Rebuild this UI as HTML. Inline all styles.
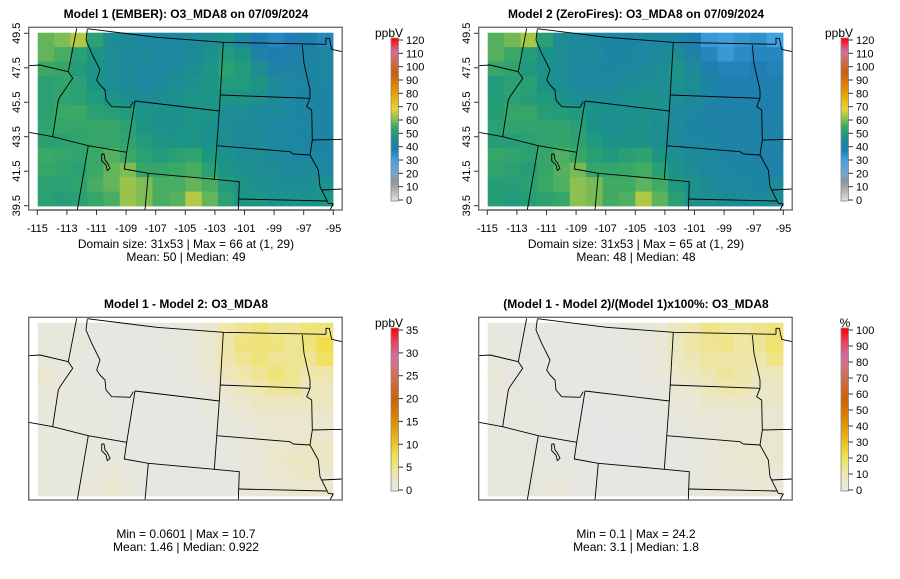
<!DOCTYPE html>
<html><head><meta charset="utf-8"><style>
body{margin:0;background:#fff;}
svg{display:block;font-family:"Liberation Sans",sans-serif;}
</style></head><body>
<svg id="chart" width="900" height="579" viewBox="0 0 900 579"></svg>
<script>
// ---- data (coarse 12 x 18 grid, rows north->south, cols west->east) ----
const lonTicks = [-115,-113,-111,-109,-107,-105,-103,-101,-99,-97,-95];
const latTicks = [39.5,41.5,43.5,45.5,47.5,49.5];
const concTicks = [0,10,20,30,40,50,60,70,80,90,100,110,120];
const diffTicks = [0,5,10,15,20,25,30,35];
const pctTicks = [0,10,20,30,40,50,60,70,80,90,100];
const model1 = [
[58,60,64,52,46,45,44,44,44,45,46,47,44,38,36,38,40,36],
[58,56,52,48,46,45,45,44,44,45,47,50,48,42,38,40,42,44],
[55,54,50,48,46,45,44,44,45,46,48,52,50,46,42,42,43,44],
[52,53,52,48,46,45,44,45,46,47,48,50,50,48,45,44,43,44],
[52,53,52,50,48,46,46,46,47,48,48,48,48,47,45,44,43,43],
[52,55,55,52,51,50,48,47,47,48,48,46,46,45,45,44,43,43],
[53,54,54,54,54,52,48,47,47,48,47,46,45,45,44,44,43,43],
[52,52,53,54,54,53,50,48,48,48,47,46,45,45,44,44,43,43],
[55,54,53,55,57,55,52,50,52,53,49,47,46,46,45,44,44,44],
[54,53,52,55,58,60,54,54,55,56,52,48,47,46,46,45,45,44],
[52,52,53,56,58,62,60,56,56,58,56,50,48,47,46,46,46,47],
[52,51,52,54,56,62,60,56,57,64,58,52,48,48,47,47,47,48]];
const diff = [
[1,1,1,0.5,0.3,0.3,0.3,0.5,1,1,2,4,5,6,5,5,6,6],
[1,1,1,0.5,0.3,0.3,0.3,0.5,0.8,1,2,4,6,6,6,5,6,8],
[1,1,0.5,0.3,0.3,0.3,0.3,0.5,0.5,1,2,4,5,6,5,5,5,7],
[2,1,0.5,0.3,0.3,0.3,0.3,0.5,0.5,1,2,3,4,5,6,5,4,4],
[1.5,1,1,0.5,0.3,0.3,0.3,0.3,0.5,0.5,1,2,3,4,5,5,3,3],
[1,1,1,1,0.5,0.3,0.3,0.3,0.3,0.5,1,1.5,2,3,3,3,3,3],
[1,1,1,1,1,0.5,0.3,0.3,0.3,0.3,1,1,1.5,2,2,2,2,2],
[1,1,1,1,0.5,0.5,0.3,0.3,0.3,0.3,0.5,1,1,1.5,2,2,2,2],
[1,1,1,1,0.5,0.5,0.3,0.3,0.3,0.3,0.5,0.5,1,1.5,2,2,2.5,2.5],
[1,1,1,1,1,0.5,0.3,0.3,0.3,0.3,0.5,0.5,1,1.5,2,2.5,2.5,2.5],
[1,1,1,1,1.5,1,0.5,0.5,0.5,0.5,0.5,0.5,1,1.5,2,2,2.5,2],
[1,1,1,1.5,2,1,0.5,0.5,0.5,0.5,0.5,0.5,1,1.5,1.5,2,2,2]];

const NS="http://www.w3.org/2000/svg";
const svg=document.getElementById('chart');
function el(tag,attrs,parent){const e=document.createElementNS(NS,tag);for(const k in attrs)e.setAttribute(k,attrs[k]);(parent||svg).appendChild(e);return e;}
function hex(c){return [parseInt(c.slice(1,3),16),parseInt(c.slice(3,5),16),parseInt(c.slice(5,7),16)];}
function interp(stops,f){f=Math.max(0,Math.min(1,f));for(let i=1;i<stops.length;i++){if(f<=stops[i][0]){const a=stops[i-1],b=stops[i];const t=(f-a[0])/(b[0]-a[0]||1);const ca=hex(a[1]),cb=hex(b[1]);return 'rgb('+ca.map((v,j)=>Math.round(v+(cb[j]-v)*t)).join(',')+')';}}return stops[stops.length-1][1];}
const concStops=[[0,'#e2e2e2'],[10/120,'#a8a8a8'],[15/120,'#909090'],[20/120,'#78a8cc'],[30/120,'#42a2e0'],[38/120,'#1f7db2'],[44/120,'#1d86a0'],[49/120,'#1c9880'],[55/120,'#3aa866'],[61/120,'#8cc050'],[68/120,'#e6d636'],[75/120,'#e8b40c'],[85/120,'#e08400'],[95/120,'#c85c14'],[102/120,'#d06a40'],[110/120,'#d072a0'],[1,'#ff0000']];
const diffStops=[[0,'#e6e6e6'],[0.05,'#e9e7d2'],[0.12,'#eee6a8'],[0.22,'#f0e050'],[0.32,'#eab818'],[0.42,'#e09000'],[0.57,'#d06000'],[0.72,'#d07060'],[0.82,'#d070a0'],[0.92,'#e84060'],[1,'#ff0000']];

const G={x0:37.7,x1:333,y0:32.7,y1:206,lonMin:-115.05,lonMax:-94.98,latMin:39.45,latMax:49.55};
const xLon=l=>37.3+(l+115)*14.8;
const yLat=l=>205.7-(l-39.5)*17.24;

const borders=[
[[262,86],[470,112],[670,127],[978,133]],[[978,133],[978,115],[988,115],[995,148],[1027,155]],
[[230,85],[205,215]],[[86,197],[120,195],[205,215],[218,235],[180,290],[175,300],[158,410]],
[[86,397],[158,410],[265,437],[380,457]],
[[262,88],[258,120],[275,160],[300,210],[290,240],[300,255],[315,270],[318,300],[335,320],[390,322],[400,305]],
[[405,303],[658,333],[643,538],[445,520],[373,507],[380,457],[405,303]],
[[670,127],[658,333]],[[660,285],[930,295]],
[[907,135],[912,190],[930,270],[930,295],[920,320],[935,330],[937,420],[930,465]],
[[650,437],[870,455],[880,462],[930,465],[955,510],[960,560],[985,610],[1000,612],[990,630]],
[[937,420],[1027,418]],[[965,570],[1027,567]],[[715,597],[980,603]],
[[643,538],[718,545],[715,630]],[[445,520],[435,630]],[[265,437],[232,630]],
[[305,462],[312,462],[315,480],[322,488],[330,505],[322,512],[318,495],[305,482],[305,462]]];

function panel(ox,oy,id,title,vals,cmin,cmax,stops,axes,cbTicks,cbLabel,sub1,sub2){
  const g=el('g',{transform:`translate(${ox},${oy})`,});
  const t=el('text',{x:186,y:18,'text-anchor':'middle','font-size':'12','font-weight':'bold',fill:'#000'},g);t.textContent=title;
  
  const hm=el('g',{},g);
  const nr=vals.length,nc=vals[0].length;
  const cw=(G.x1-G.x0)/nc,ch=(G.y1-G.y0)/nr;
  for(let r=0;r<nr;r++)for(let c=0;c<nc;c++){
    const lon=G.lonMin+(c+0.5)*(G.lonMax-G.lonMin)/nc, lat=G.latMax-(r+0.5)*(G.latMax-G.latMin)/nr;
    const cx=G.x0+(lon-G.lonMin)/(G.lonMax-G.lonMin)*(G.x1-G.x0), cy=G.y0+(G.latMax-lat)/(G.latMax-G.latMin)*(G.y1-G.y0);
    const rc=el('rect',{x:(cx-cw/2).toFixed(2),y:(cy-ch/2).toFixed(2),width:(cw+0.4).toFixed(2),height:(ch+0.4).toFixed(2),fill:interp(stops,(vals[r][c]-cmin)/(cmax-cmin))},hm);
    
    
  }
  const bg=el('g',{fill:'none',stroke:'#000','stroke-width':'0.9','stroke-linejoin':'round'},g);
  
  borders.forEach(b=>{el('polyline',{points:b.map(p=>(p[0]/3).toFixed(1)+','+(p[1]/3).toFixed(1)).join(' ')},bg);});
  const box=el('rect',{x:28.7,y:27.3,width:313.5,height:182.7,fill:'none',stroke:'#666','stroke-width':'1.3'},g);
  
  if(axes){
    const ax=el('g',{},g);
    lonTicks.forEach(l=>{const x=xLon(l);el('line',{x1:x,x2:x,y1:210,y2:215,stroke:'#333'},ax);
      const tx=el('text',{x:x,y:232,'text-anchor':'middle','font-size':'11',fill:'#000'},ax);tx.textContent=l;});
    el('line',{x1:xLon(-115),x2:xLon(-95),y1:210,y2:210,stroke:'#333'},ax);
    const ay=el('g',{},g);
    latTicks.forEach(l=>{const y=yLat(l);el('line',{x1:28.7,x2:24,y1:y,y2:y,stroke:'#333'},ay);
      const tx=el('text',{x:0,y:0,'text-anchor':'middle','font-size':'11',fill:'#000',transform:`translate(20,${y}) rotate(-90)`},ay);tx.textContent=l.toFixed(1);});
  }
  const s1=el('text',{x:186,y:248,'text-anchor':'middle','font-size':'12',fill:'#000'},g);s1.textContent=sub1;
  
  const s2=el('text',{x:186,y:261,'text-anchor':'middle','font-size':'12',fill:'#000'},g);s2.textContent=sub2;
  
  const cb=el('g',{},g);
  const top=38,bot=201,n=80;
  for(let i=0;i<n;i++){const f=(i+0.5)/n;el('rect',{x:391,y:(bot-(i+1)*(bot-top)/n).toFixed(2),width:7.5,height:((bot-top)/n+0.4).toFixed(2),fill:interp(stops,f)},cb);}
  el('rect',{x:391,y:top,width:7.5,height:bot-top,fill:'none',stroke:'#888','stroke-width':'0.8'},cb);
  const vmax=cbTicks[cbTicks.length-1];
  cbTicks.forEach(v=>{const y=200-(v/vmax)*160;el('line',{x1:398.5,x2:403,y1:y,y2:y,stroke:'#333'},cb);
    const tx=el('text',{x:406,y:y+4,'font-size':'11',fill:'#000'},cb);tx.textContent=v;});
  const cl=el('text',{x:cbLabel==='%'?395:389,y:37,'text-anchor':'middle','font-size':'12',fill:'#000'},cb);cl.textContent=cbLabel;
  
}
const model2=model1.map((row,r)=>row.map((v,c)=>v-diff[r][c]));
const pct=model1.map((row,r)=>row.map((v,c)=>diff[r][c]/v*100));
panel(0,0,'panel-model1','Model 1 (EMBER): O3_MDA8 on 07/09/2024',model1,0,120,concStops,true,concTicks,'ppbV','Domain size: 31x53 | Max = 66 at (1, 29)','Mean: 50 |  Median: 49');
panel(450,0,'panel-model2','Model 2 (ZeroFires): O3_MDA8 on 07/09/2024',model2,0,120,concStops,true,concTicks,'ppbV','Domain size: 31x53 | Max = 65 at (1, 29)','Mean: 48 |  Median: 48');
panel(0,290,'panel-difference','Model 1 - Model 2: O3_MDA8',diff,0,35,diffStops,false,diffTicks,'ppbV','Min = 0.0601 | Max = 10.7','Mean: 1.46 |  Median: 0.922');
panel(450,290,'panel-percent-difference','(Model 1 - Model 2)/(Model 1)x100%: O3_MDA8',pct,0,100,diffStops,false,pctTicks,'%','Min = 0.1 | Max = 24.2','Mean: 3.1 |  Median: 1.8');
</script>
</body></html>
